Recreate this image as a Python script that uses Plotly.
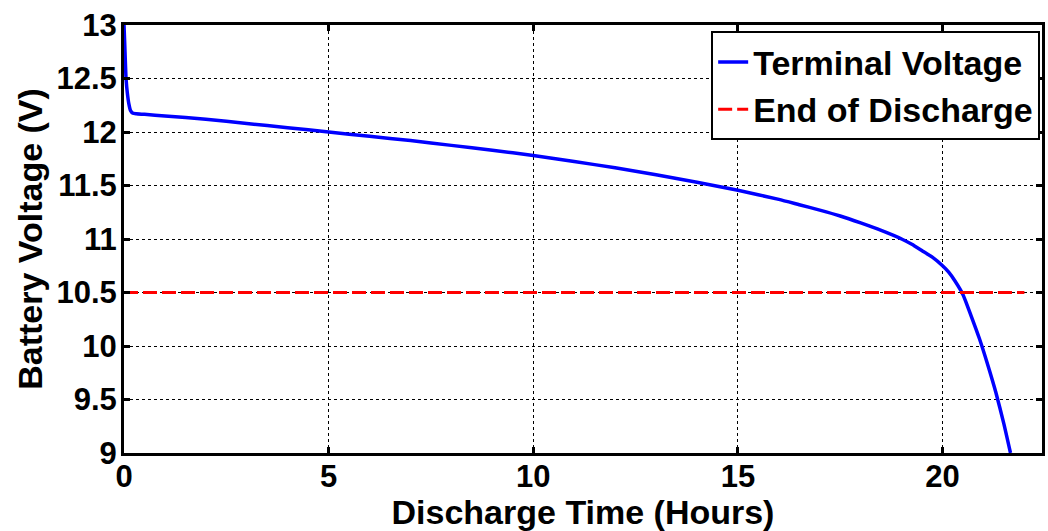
import plotly.graph_objects as go

time_h = [0, 0.02, 0.05, 0.08, 0.12, 0.16, 0.22, 0.3, 0.5, 1, 2, 3, 4, 5, 6, 7, 8, 9, 10, 11, 12, 13,
          14, 15, 16, 16.5, 17, 17.5, 18, 18.5, 19, 19.25, 19.5, 19.75, 20, 20.15, 20.3, 20.5,
          20.7, 20.9, 21.1, 21.3, 21.5, 21.66]
voltage = [13, 12.8, 12.5, 12.37, 12.26, 12.2, 12.175, 12.17, 12.165, 12.15, 12.12, 12.08, 12.04,
           12.0, 11.96, 11.92, 11.875, 11.83, 11.78, 11.725, 11.665, 11.6, 11.53, 11.455, 11.37,
           11.32, 11.27, 11.215, 11.15, 11.08, 11.0, 10.95, 10.89, 10.83, 10.75, 10.69, 10.61,
           10.48, 10.28, 10.07, 9.83, 9.57, 9.27, 9.0]
eod_time = [0, 22]
eod_voltage = [10.5, 10.5]
x_ticks = [0, 5, 10, 15, 20]
y_ticks = [9, 9.5, 10, 10.5, 11, 11.5, 12, 12.5, 13]

font_family = "Liberation Sans, Arial, sans-serif"

fig = go.Figure()
fig.add_trace(go.Scatter(x=time_h, y=voltage, mode="lines", name="<b>Terminal Voltage</b>",
                         line=dict(color="#0000ff", width=3.5, shape="spline", smoothing=0.5)))
fig.add_trace(go.Scatter(x=eod_time, y=eod_voltage, mode="lines", name="<b>End of Discharge</b>",
                         line=dict(color="#ff0000", width=3, dash="14px,5px")))

axis_common = dict(
    showline=True, linecolor="black", linewidth=3, mirror="ticks",
    ticks="inside", ticklen=6, tickwidth=3, tickcolor="black",
    showgrid=True, gridcolor="black", gridwidth=1, griddash="dot",
    zeroline=False,
    tickfont=dict(family=font_family, size=31, color="black", weight="bold"),
)

fig.update_xaxes(range=[0, 22.43], tickvals=x_ticks, ticktext=[f"<b>{v}</b>" for v in x_ticks],
                 ticklabelstandoff=-6,
                 title=dict(text="<b>Discharge Time (Hours)</b>", standoff=0,
                            font=dict(family=font_family, size=34, color="black")),
                 **axis_common)
fig.update_yaxes(range=[9, 13], tickvals=y_ticks, ticktext=[f"<b>{v:g}</b>" for v in y_ticks],
                 ticklabelstandoff=-2,
                 title=dict(text="<b>Battery Voltage (V)</b>", standoff=4,
                            font=dict(family=font_family, size=34, color="black")),
                 **axis_common)

fig.update_layout(
    width=1048, height=531,
    margin=dict(l=124, r=3, t=25, b=78),
    paper_bgcolor="white", plot_bgcolor="white",
    showlegend=True,
    legend=dict(x=0.998, y=0.985, xanchor="right", yanchor="top",
                bgcolor="white", bordercolor="black", borderwidth=2,
                font=dict(family=font_family, size=34, color="black"),
                tracegroupgap=0, itemwidth=30),
)

fig.write_html("out.html")
